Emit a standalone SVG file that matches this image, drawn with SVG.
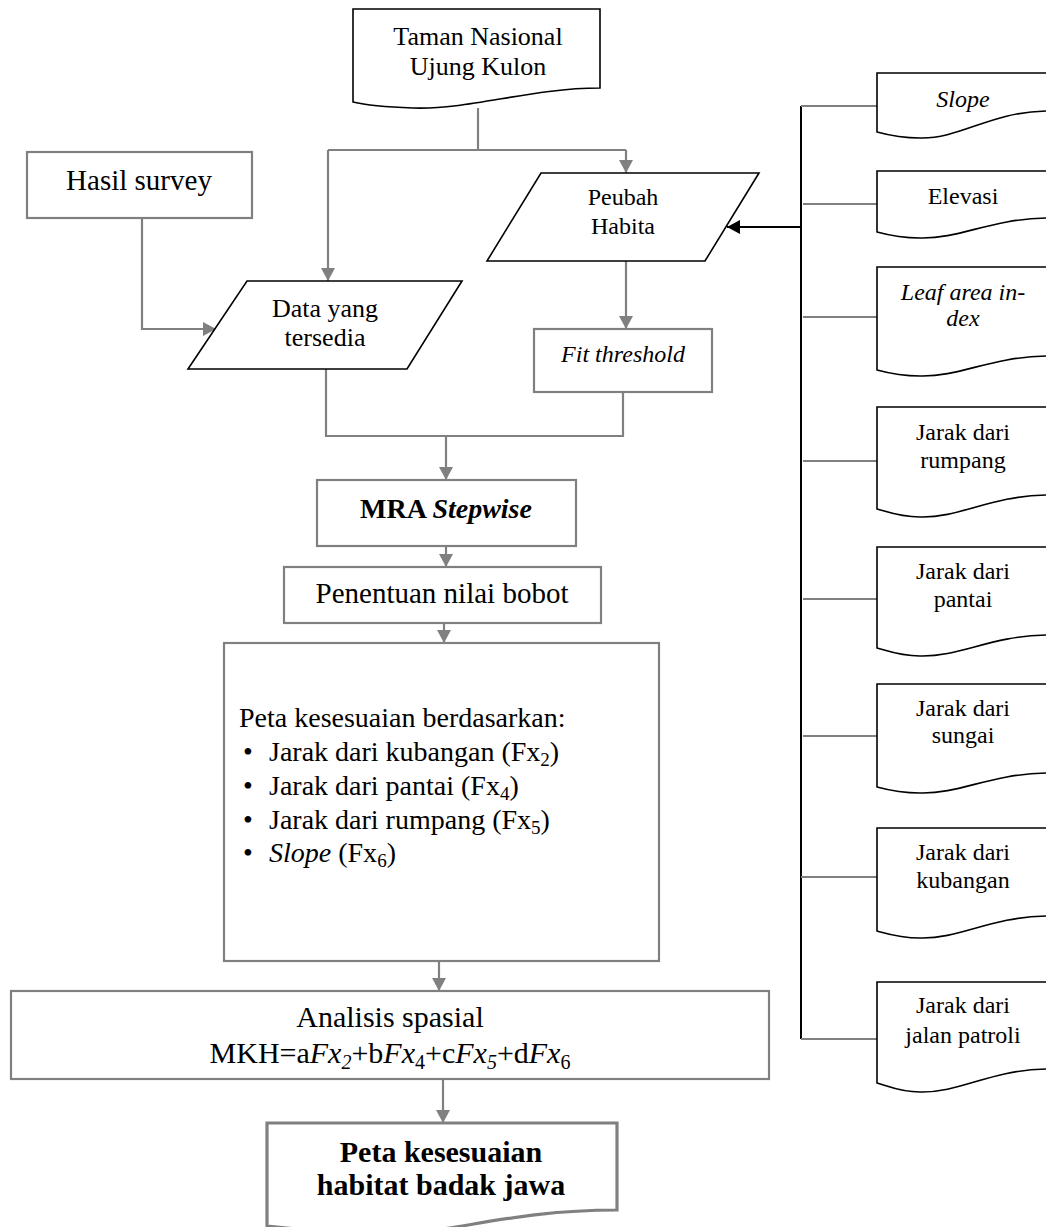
<svg xmlns="http://www.w3.org/2000/svg" width="1046" height="1227" viewBox="0 0 1046 1227">
<style>
text{font-family:"Liberation Serif","Times New Roman",serif;fill:#000}
.doc{fill:#fff;stroke:#000;stroke-width:1.6}
.para{fill:#fff;stroke:#000;stroke-width:1.6}
.gbox{fill:#fff;stroke:#808080;stroke-width:2.2}
.conn{fill:none;stroke:#808080;stroke-width:2.2}
.blk{fill:none;stroke:#000;stroke-width:2}
.c{text-anchor:middle}
</style>
<defs>
<marker id="ag" markerUnits="userSpaceOnUse" markerWidth="14" markerHeight="14" refX="13" refY="7" orient="auto"><path d="M0,0 L13,7 L0,14 Z" fill="#808080"/></marker>
<marker id="ab" markerUnits="userSpaceOnUse" markerWidth="14" markerHeight="14" refX="13" refY="7" orient="auto"><path d="M0,0 L13,7 L0,14 Z" fill="#000"/></marker>
</defs>

<g id="connectors">
<path class="conn" d="M478,108 V150"/>
<path class="conn" d="M328,150 H626"/>
<path class="conn" d="M328,150 V281" marker-end="url(#ag)"/>
<path class="conn" d="M626,150 V173" marker-end="url(#ag)"/>
<path class="conn" d="M142,218 V329 H216" marker-end="url(#ag)"/>
<path class="conn" d="M626,261 V329" marker-end="url(#ag)"/>
<path class="conn" d="M326,369 V436 H623 V392"/>
<path class="conn" d="M446,436 V480" marker-end="url(#ag)"/>
<path class="conn" d="M446,546 V567" marker-end="url(#ag)"/>
<path class="conn" d="M444,623 V643" marker-end="url(#ag)"/>
<path class="conn" d="M439,961 V991" marker-end="url(#ag)"/>
<path class="conn" d="M443,1079 V1123" marker-end="url(#ag)"/>
<path class="blk" d="M801,106 V1039"/>
<path class="blk" d="M801,227 H727" marker-end="url(#ab)"/>
<path class="conn" d="M801,106 H877 M803,204 H877 M803,317 H877 M803,461 H877 M803,599 H877 M803,736 H877 M801,877 H877 M801,1039 H877"/>
</g>

<g id="taman">
<path class="doc" d="M353,9 H600 V88 C530,88 470,110 413,108 C385,107 365,105 353,102 Z"/>
<text class="c" x="478" y="45" font-size="26">Taman Nasional</text>
<text class="c" x="478" y="75" font-size="26">Ujung Kulon</text>
</g>

<g id="hasil">
<rect class="gbox" x="27" y="152" width="225" height="66"/>
<text class="c" x="139" y="190" font-size="29">Hasil survey</text>
</g>

<g id="data">
<path class="para" d="M247,281 H462 L407,369 H188 Z"/>
<text class="c" x="325" y="317" font-size="26">Data yang</text>
<text class="c" x="325" y="346" font-size="26">tersedia</text>
</g>

<g id="peubah">
<path class="para" d="M541,173 H759 L705,261 H487 Z"/>
<text class="c" x="623" y="205" font-size="24">Peubah</text>
<text class="c" x="623" y="234" font-size="24">Habita</text>
</g>

<g id="fit">
<rect class="gbox" x="534" y="329" width="178" height="63"/>
<text class="c" x="623" y="362" font-size="24" font-style="italic">Fit threshold</text>
</g>

<g id="mra">
<rect class="gbox" x="317" y="480" width="259" height="66"/>
<text class="c" x="446" y="518" font-size="28" font-weight="bold">MRA <tspan font-style="italic">Stepwise</tspan></text>
</g>

<g id="penentuan">
<rect class="gbox" x="284" y="567" width="317" height="56"/>
<text class="c" x="442" y="603" font-size="29">Penentuan nilai bobot</text>
</g>

<g id="peta-berdasarkan">
<rect class="gbox" x="224" y="643" width="435" height="318"/>
<text x="239" y="727" font-size="28">Peta kesesuaian berdasarkan:</text>
<text x="243" y="761" font-size="28">•</text>
<text x="269" y="761" font-size="28">Jarak dari kubangan (Fx<tspan font-size="19" dy="5">2</tspan><tspan dy="-5">)</tspan></text>
<text x="243" y="795" font-size="28">•</text>
<text x="269" y="795" font-size="28">Jarak dari pantai (Fx<tspan font-size="19" dy="5">4</tspan><tspan dy="-5">)</tspan></text>
<text x="243" y="829" font-size="28">•</text>
<text x="269" y="829" font-size="28">Jarak dari rumpang (Fx<tspan font-size="19" dy="5">5</tspan><tspan dy="-5">)</tspan></text>
<text x="243" y="862" font-size="28">•</text>
<text x="269" y="862" font-size="28"><tspan font-style="italic">Slope</tspan> (Fx<tspan font-size="19" dy="5">6</tspan><tspan dy="-5">)</tspan></text>
</g>

<g id="analisis">
<rect class="gbox" x="11" y="991" width="758" height="88" stroke-width="2.6"/>
<text class="c" x="390" y="1027" font-size="30">Analisis spasial</text>
<text class="c" x="390" y="1063" font-size="30">MKH=a<tspan font-style="italic">Fx</tspan><tspan font-size="20" dy="6" font-style="italic">2</tspan><tspan dy="-6">+b</tspan><tspan font-style="italic">Fx</tspan><tspan font-size="20" dy="6">4</tspan><tspan dy="-6">+c</tspan><tspan font-style="italic">Fx</tspan><tspan font-size="20" dy="6" font-style="italic">5</tspan><tspan dy="-6">+d</tspan><tspan font-style="italic">Fx</tspan><tspan font-size="20" dy="6">6</tspan></text>
</g>

<g id="hasil-akhir">
<path d="M267,1123 H617 V1210 C540,1210 490,1222 437,1230 C380,1236 320,1232 267,1226 Z" fill="#fff" stroke="#808080" stroke-width="3.2"/>
<text class="c" x="441" y="1162" font-size="30" font-weight="bold">Peta kesesuaian</text>
<text class="c" x="441" y="1195" font-size="30" font-weight="bold">habitat badak jawa</text>
</g>

<g id="slope">
<path class="doc" d="M877,73 H1060 V111 L1046,111 C990,112 960,139 920,138 C900,138 888,135 877,132 Z"/>
<text class="c" x="963" y="107" font-size="24" font-style="italic">Slope</text>
</g>
<g id="elevasi">
<path class="doc" d="M877,171 H1060 V218 L1046,218 C990,219 960,239 920,238 C900,238 888,235 877,232 Z"/>
<text class="c" x="963" y="204" font-size="24">Elevasi</text>
</g>
<g id="leaf">
<path class="doc" d="M877,267 H1060 V356 L1046,356 C990,357 960,377 920,376 C900,376 888,373 877,370 Z"/>
<text class="c" x="963" y="300" font-size="24" font-style="italic">Leaf area in-</text>
<text class="c" x="963" y="326" font-size="24" font-style="italic">dex</text>
</g>
<g id="rumpang">
<path class="doc" d="M877,407 H1060 V495 L1046,495 C990,496 960,518 920,517 C900,517 888,512 877,509 Z"/>
<text class="c" x="963" y="440" font-size="24">Jarak dari</text>
<text class="c" x="963" y="468" font-size="24">rumpang</text>
</g>
<g id="pantai">
<path class="doc" d="M877,547 H1060 V635 L1046,635 C990,636 960,657 920,656 C900,656 888,651 877,648 Z"/>
<text class="c" x="963" y="579" font-size="24">Jarak dari</text>
<text class="c" x="963" y="607" font-size="24">pantai</text>
</g>
<g id="sungai">
<path class="doc" d="M877,684 H1060 V773 L1046,773 C990,774 960,794 920,793 C900,793 888,790 877,787 Z"/>
<text class="c" x="963" y="716" font-size="24">Jarak dari</text>
<text class="c" x="963" y="743" font-size="24">sungai</text>
</g>
<g id="kubangan">
<path class="doc" d="M877,828 H1060 V916 L1046,916 C990,917 960,939 920,938 C900,938 888,934 877,931 Z"/>
<text class="c" x="963" y="860" font-size="24">Jarak dari</text>
<text class="c" x="963" y="888" font-size="24">kubangan</text>
</g>
<g id="patroli">
<path class="doc" d="M877,982 H1060 V1069 L1046,1069 C990,1070 960,1093 920,1092 C900,1092 888,1086 877,1083 Z"/>
<text class="c" x="963" y="1013" font-size="24">Jarak dari</text>
<text class="c" x="963" y="1043" font-size="24">jalan patroli</text>
</g>
</svg>
